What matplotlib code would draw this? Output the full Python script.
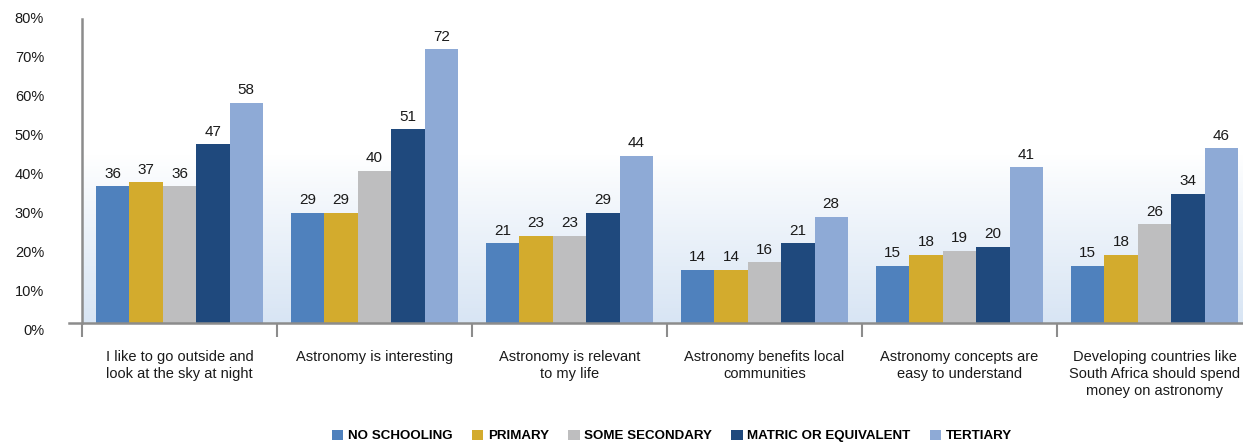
import numpy as np
import matplotlib
matplotlib.use("Agg")
import matplotlib.pyplot as plt
from matplotlib import font_manager
from matplotlib.transforms import ScaledTranslation, blended_transform_factory

categories = [
    "I like to go outside and\nlook at the sky at night",
    "Astronomy is interesting",
    "Astronomy is relevant\nto my life",
    "Astronomy benefits local\ncommunities",
    "Astronomy concepts are\neasy to understand",
    "Developing countries like\nSouth Africa should spend\nmoney on astronomy",
]
series_names = ["NO SCHOOLING", "PRIMARY", "SOME SECONDARY", "MATRIC OR EQUIVALENT", "TERTIARY"]
no_schooling = [36, 29, 21, 14, 15, 15]
primary = [37, 29, 23, 14, 18, 18]
some_secondary = [36, 40, 23, 16, 19, 26]
matric = [47, 51, 29, 21, 20, 34]
tertiary = [58, 72, 44, 28, 41, 46]
series_values = [no_schooling, primary, some_secondary, matric, tertiary]
colors = ["#4f81bd", "#d3ab2d", "#bebebf", "#1f497d", "#8eaad6"]
yticks = [0, 10, 20, 30, 40, 50, 60, 70, 80]

names = {f.name for f in font_manager.fontManager.ttflist}
narrow = "Liberation Sans Narrow" if "Liberation Sans Narrow" in names else "Liberation Sans"
plt.rcParams["font.family"] = [narrow, "DejaVu Sans"]

W, H = 1243, 446
fig = plt.figure(figsize=(W / 100, H / 100), dpi=100)
ax = fig.add_axes([82 / W, (H - 323) / H, 1170 / W, 304 / H])

n = len(categories)
ax.set_xlim(-0.5, n - 0.5)
ax.set_ylim(0, 80)

# gradient background
g = np.linspace(0, 1, 300)
t = np.clip((g - 0.45) / 0.55, 0, 1) ** 0.9
top = np.array([1.0, 1.0, 1.0])
bot = np.array([216, 229, 244]) / 255
grad = top[None, :] * (1 - t[:, None]) + bot[None, :] * t[:, None]
ax.imshow(grad[:, None, :], extent=[-0.5, n - 0.5, 0, 80], aspect="auto", zorder=0, origin="upper")

w = 0.171
x = np.arange(n)
for j, (vals, c) in enumerate(zip(series_values, colors)):
    xs = x + (j - 2) * w
    ax.bar(xs, vals, width=w, color=c, label=series_names[j], zorder=2, linewidth=0)
    for xi, v in zip(xs, vals):
        ax.annotate(f"{v}", (xi, v), xytext=(0, 4), textcoords="offset points",
                    ha="center", va="bottom", fontsize=11, color="#1a1a1a")

for s in ["top", "right", "bottom"]:
    ax.spines[s].set_visible(False)
ax.spines["left"].set_color("#8c8c8c")
ax.spines["left"].set_linewidth(1.8)

# x-axis line extending slightly left
ax.plot([-0.5 - 13 / 195, n - 0.5], [0, 0], color="#8c8c8c", lw=1.8, clip_on=False, zorder=3)

ax.set_xticks(np.arange(-0.5, n, 1.0), minor=True)
ax.set_xticks([])
ax.tick_params(axis="x", which="minor", length=10, width=1.5, color="#8c8c8c", direction="out")
ax.set_yticks([])

# y tick labels
tr_y = blended_transform_factory(ax.transAxes, ax.transData)
for k, v in enumerate(yticks):
    off = ScaledTranslation(0, -(8 - k) / 100, fig.dpi_scale_trans)
    ax.text((44 - 82) / 1170, v, f"{v}%", transform=tr_y + off, ha="right", va="center",
            fontsize=10.5, color="#1a1a1a")

# category labels
tr_x = blended_transform_factory(ax.transData, ax.transAxes)
for i, cat in enumerate(categories):
    off = ScaledTranslation(0, -27 / 100, fig.dpi_scale_trans)
    ax.text(i, 0, cat, transform=tr_x + off, ha="center", va="top", fontsize=10.5,
            color="#1a1a1a", linespacing=1.25, clip_on=False)

handles, labels = ax.get_legend_handles_labels()
leg = fig.legend(handles, labels, loc="center", bbox_to_anchor=(672 / W, 10 / H), ncol=5,
                 frameon=False, handlelength=0.85, handleheight=0.85, handletextpad=0.35,
                 columnspacing=1.45, prop={"family": [narrow, "DejaVu Sans"], "weight": "bold", "size": 9.6})

fig.savefig("out.png", dpi=100)
